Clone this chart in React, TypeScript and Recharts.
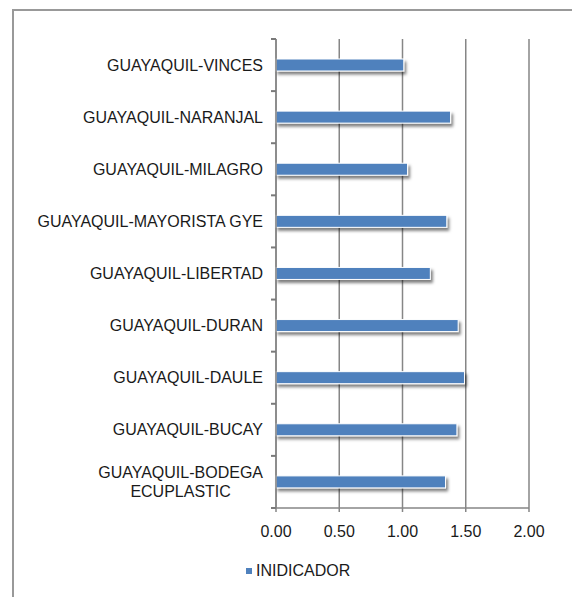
import React from "react";
import {
  BarChart,
  Bar,
  XAxis,
  YAxis,
  CartesianGrid,
  Legend,
} from "recharts";

const routes = [
  "GUAYAQUIL-VINCES",
  "GUAYAQUIL-NARANJAL",
  "GUAYAQUIL-MILAGRO",
  "GUAYAQUIL-MAYORISTA GYE",
  "GUAYAQUIL-LIBERTAD",
  "GUAYAQUIL-DURAN",
  "GUAYAQUIL-DAULE",
  "GUAYAQUIL-BUCAY",
  "GUAYAQUIL-BODEGA ECUPLASTIC",
];
const indicador = [1.01, 1.38, 1.04, 1.35, 1.22, 1.44, 1.49, 1.43, 1.34];
const xTicks = [0, 0.5, 1, 1.5, 2];

const data = routes.map((name, i) => ({ name, value: indicador[i] }));

const FONT = "'Liberation Sans', Arial, sans-serif";
const BLUE = "#4f81bd";
const GREY = "#868686";
const INK = "#1a1a1a";

let ctx: CanvasRenderingContext2D | null = null;
const textWidth = (s: string) => {
  if (!ctx) ctx = document.createElement("canvas").getContext("2d");
  if (!ctx) return s.length * 9;
  ctx.font = `16px ${FONT}`;
  return ctx.measureText(s).width;
};

// wrap long labels at spaces like the spreadsheet does
const wrap = (label: string, max: number) => {
  if (textWidth(label) <= max) return [label];
  const words = label.split(" ");
  const lines: string[] = [];
  let cur = "";
  words.forEach((w) => {
    const next = cur ? cur + " " + w : w;
    if (cur && textWidth(next) > max) {
      lines.push(cur);
      cur = w;
    } else cur = next;
  });
  if (cur) lines.push(cur);
  return lines;
};

// category label plus the short marks between categories on the axis
const RouteTick = ({ x, y, payload, index, visibleTicksCount }: any) => {
  const axisX = x + 8;
  const half = payload.offset || 0;
  const lines = wrap(payload.value, 245);
  const right = x - 5;
  const marks = [y - half];
  if (index === visibleTicksCount - 1) marks.push(y + half);

  let label;
  if (lines.length === 1) {
    label = (
      <text x={right} y={y} dy="0.35em" textAnchor="end" fontSize={16} fontFamily={FONT} fill={INK}>
        {lines[0]}
      </text>
    );
  } else {
    const w = Math.max(...lines.map(textWidth));
    const cx = right - w / 2;
    const lh = 19;
    const top = y - ((lines.length - 1) * lh) / 2;
    label = (
      <text textAnchor="middle" fontSize={16} fontFamily={FONT} fill={INK}>
        {lines.map((l, i) => (
          <tspan key={i} x={cx} y={top + i * lh} dy="0.35em">
            {l}
          </tspan>
        ))}
      </text>
    );
  }
  return (
    <g>
      {marks.map((m, i) => (
        <line key={i} x1={axisX - 5} x2={axisX} y1={m} y2={m} stroke="#7a7a7a" strokeWidth={2} />
      ))}
      {label}
    </g>
  );
};

const ShadowBar = (p: any) => (
  <rect
    x={p.x}
    y={p.y}
    width={p.width}
    height={p.height}
    fill={BLUE}
    stroke="#fff"
    strokeWidth={1}
    filter="url(#barShadow)"
  />
);

const LegendContent = () => (
  <div
    style={{
      display: "flex",
      alignItems: "center",
      fontFamily: FONT,
      fontSize: 16,
      color: INK,
      height: 20,
    }}
  >
    <span style={{ width: 6, height: 6, background: BLUE, marginRight: 4 }} />
    <span>INIDICADOR</span>
  </div>
);

export default function App() {
  return (
    <div style={{ position: "absolute", left: 0, top: 0, width: 572, height: 597, background: "#fff", overflow: "hidden" }}>
      <div
        style={{
          position: "absolute",
          left: 12,
          top: 9,
          width: 620,
          height: 620,
          borderTop: "2px solid #999",
          borderLeft: "2px solid #999",
        }}
      />
      <div style={{ position: "absolute", left: 0, top: 0 }}>
        <BarChart
          width={572}
          height={597}
          data={data}
          layout="vertical"
          margin={{ top: 39, right: 43, left: 11, bottom: 39 }}
          barSize={12}
        >
          <defs>
            <filter id="barShadow" x="-10%" y="-50%" width="130%" height="250%">
              <feDropShadow dx={2} dy={3} stdDeviation={1.5} floodColor="#000" floodOpacity={0.5} />
            </filter>
          </defs>
          <CartesianGrid horizontal={false} stroke={GREY} strokeWidth={1.5} />
          <XAxis
            type="number"
            domain={[0, 2]}
            ticks={xTicks}
            tickFormatter={(v: number) => v.toFixed(2)}
            axisLine={{ stroke: GREY, strokeWidth: 1.5 }}
            tickLine={{ stroke: GREY, strokeWidth: 1.5 }}
            tickSize={4}
            tickMargin={14}
            height={30}
            tick={{ fill: INK, fontSize: 16, fontFamily: FONT }}
          />
          <YAxis
            type="category"
            dataKey="name"
            width={265}
            axisLine={{ stroke: GREY, strokeWidth: 1.5 }}
            tickLine={false}
            tick={<RouteTick />}
            interval={0}
          />
          <Legend
            content={<LegendContent />}
            wrapperStyle={{ top: 561, bottom: "auto", left: 246, width: 120 }}
          />
          <Bar dataKey="value" name="INIDICADOR" fill={BLUE} shape={<ShadowBar />} isAnimationActive={false} />
        </BarChart>
      </div>
    </div>
  );
}
